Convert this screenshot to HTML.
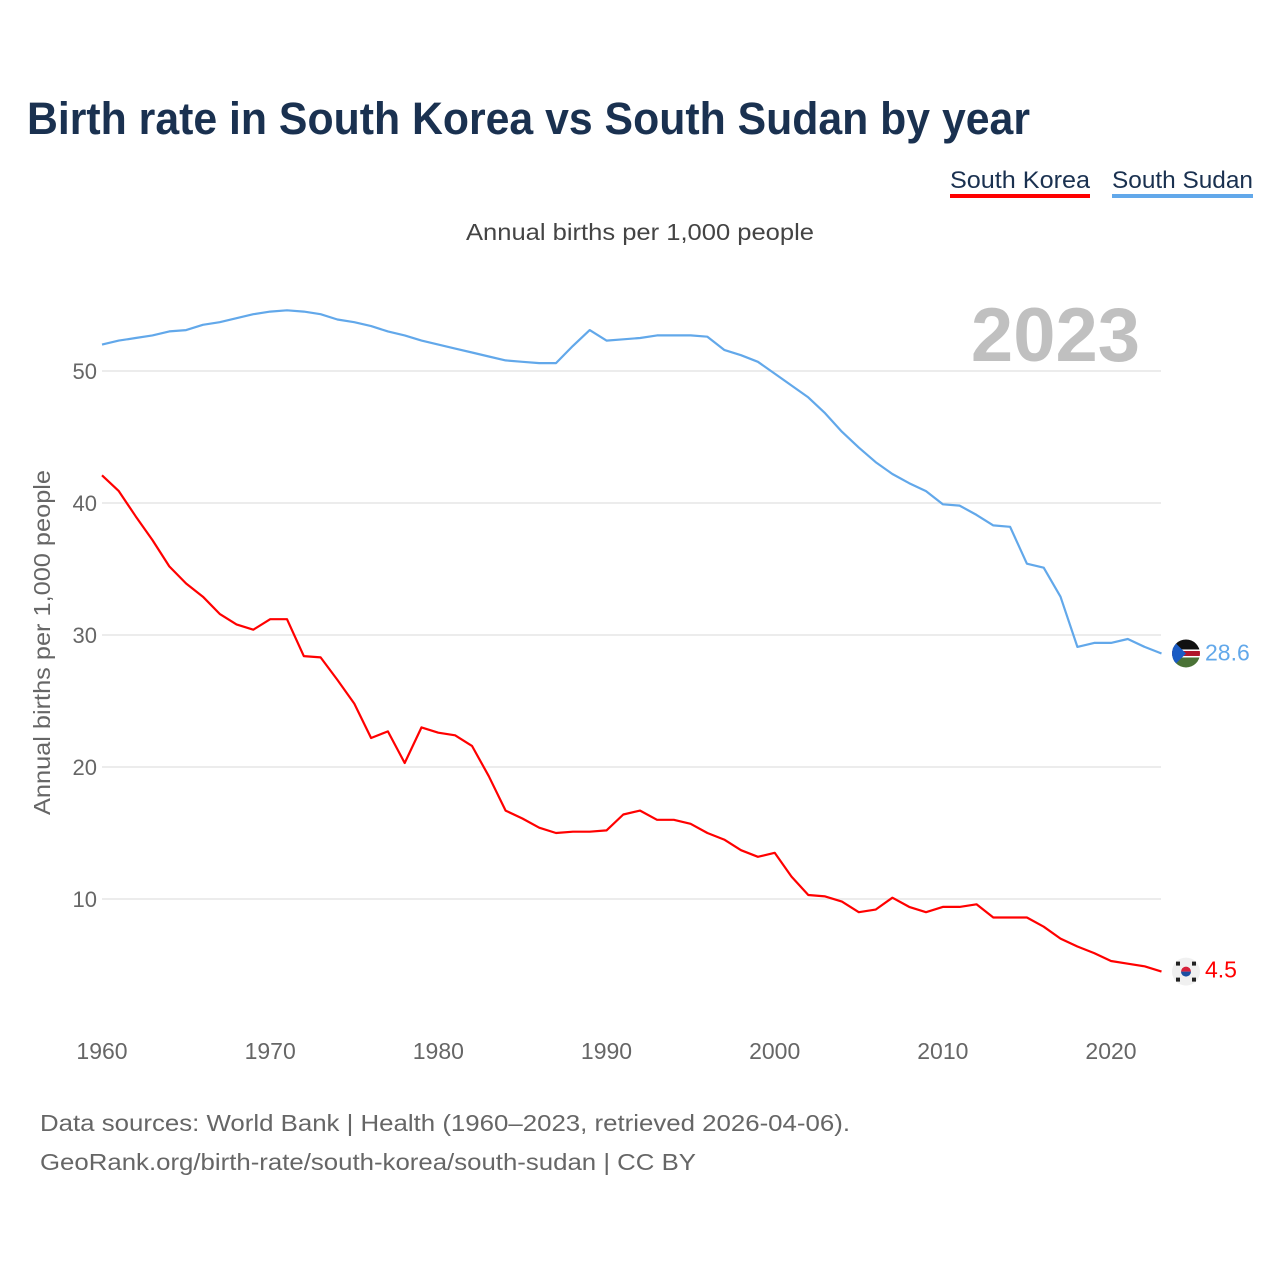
<!DOCTYPE html>
<html><head><meta charset="utf-8"><style>
html,body{margin:0;padding:0;background:#fff;width:1280px;height:1280px;overflow:hidden;font-family:"Liberation Sans",sans-serif;}
svg text{font-family:"Liberation Sans",sans-serif;}
</style></head><body>
<svg id="chart" width="1280" height="1280" viewBox="0 0 1280 1280" xmlns="http://www.w3.org/2000/svg">
<text x="27" y="134" font-size="45" font-weight="bold" fill="#1a3150" textLength="1003" lengthAdjust="spacingAndGlyphs">Birth rate in South Korea vs South Sudan by year</text>
<g>
<text x="950" y="188" font-size="24" fill="#1a3150" textLength="140" lengthAdjust="spacingAndGlyphs">South Korea</text>
<rect x="950" y="194" width="140" height="4" fill="#ff0000"/>
</g>
<g>
<text x="1112" y="188" font-size="24" fill="#1a3150" textLength="141" lengthAdjust="spacingAndGlyphs">South Sudan</text>
<rect x="1112" y="194" width="141" height="4" fill="#62a8ea"/>
</g>
<text x="466" y="240" font-size="23" fill="#444" textLength="348" lengthAdjust="spacingAndGlyphs">Annual births per 1,000 people</text>
<text x="1140" y="361" font-size="76" font-weight="bold" fill="#c0c0c0" text-anchor="end">2023</text>
<text transform="translate(50,815) rotate(-90)" font-size="23" fill="#666" textLength="345" lengthAdjust="spacingAndGlyphs">Annual births per 1,000 people</text>
<g id="grid"></g><g id="xticks"></g><g id="lines"></g><g id="ends"></g>
<text x="40" y="1131" font-size="23" fill="#666" textLength="810" lengthAdjust="spacingAndGlyphs">Data sources: World Bank | Health (1960–2023, retrieved 2026-04-06).</text>
<text x="40" y="1170" font-size="23" fill="#666" textLength="656" lengthAdjust="spacingAndGlyphs">GeoRank.org/birth-rate/south-korea/south-sudan | CC BY</text>
</svg>
<script>
const years = [];
for (let y = 1960; y <= 2023; y++) years.push(y);
const koreaValues = [42.1,40.9,39.0,37.2,35.2,33.9,32.9,31.6,30.8,30.4,31.2,31.2,28.4,28.3,26.6,24.8,22.2,22.7,20.3,23.0,22.6,22.4,21.6,19.3,16.7,16.1,15.4,15.0,15.1,15.1,15.2,16.4,16.7,16.0,16.0,15.7,15.0,14.5,13.7,13.2,13.5,11.7,10.3,10.2,9.8,9.0,9.2,10.1,9.4,9.0,9.4,9.4,9.6,8.6,8.6,8.6,7.9,7.0,6.4,5.9,5.3,5.1,4.9,4.5];
const sudanValues = [52.0,52.3,52.5,52.7,53.0,53.1,53.5,53.7,54.0,54.3,54.5,54.6,54.5,54.3,53.9,53.7,53.4,53.0,52.7,52.3,52.0,51.7,51.4,51.1,50.8,50.7,50.6,50.6,51.9,53.1,52.3,52.4,52.5,52.7,52.7,52.7,52.6,51.6,51.2,50.7,49.8,48.9,48.0,46.8,45.4,44.2,43.1,42.2,41.5,40.9,39.9,39.8,39.1,38.3,38.2,35.4,35.1,32.9,29.1,29.4,29.4,29.7,29.1,28.6];
const yTicks = [10,20,30,40,50];
const xTicks = [1960,1970,1980,1990,2000,2010,2020];

const NS = "http://www.w3.org/2000/svg";
const X = yr => 102 + (yr - 1960) * (1009 / 60);
const Y = v => 1031 - v * 13.2;
function mk(tag, parent, attrs){ const e=document.createElementNS(NS,tag); for(const k in attrs) e.setAttribute(k,attrs[k]); parent.appendChild(e); return e; }

const grid = document.getElementById('grid');
yTicks.forEach(t=>{
  const l = mk('line', grid, {x1:102,x2:1161,y1:Y(t),y2:Y(t),stroke:'#e6e6e6','stroke-width':1.5});
  
  
  const tx = mk('text', grid, {x:97,y:Y(t)+8,'font-size':22,fill:'#666','text-anchor':'end'});
  tx.textContent = t;
  
  
});
const xg = document.getElementById('xticks');
xTicks.forEach(t=>{
  const tx = mk('text', xg, {x:X(t),y:1059,'font-size':23,fill:'#666','text-anchor':'middle'});
  tx.textContent = t;
  
  
});
const lg = document.getElementById('lines');
function line(vals, color, name){
  const d = vals.map((v,i)=>(i?'L':'M')+X(years[i]).toFixed(1)+','+Y(v).toFixed(1)).join(' ');
  const p = mk('path', lg, {d:d,fill:'none',stroke:color,'stroke-width':2.2,'stroke-linejoin':'round'});
  
  
}
line(sudanValues, '#62a8ea', 'south-sudan-line');
line(koreaValues, '#ff0000', 'south-korea-line');

const eg = document.getElementById('ends');
const sLast = sudanValues[sudanValues.length-1], kLast = koreaValues[koreaValues.length-1];
const sy = Y(sLast), fx = 1186;
const sf = mk('g', eg, {});


mk('clipPath', sf, {id:'cs'}).appendChild(document.createElementNS(NS,'circle')).setAttribute('r',14);
document.querySelector('#cs circle').setAttribute('cx',fx);document.querySelector('#cs circle').setAttribute('cy',sy);
const sfg = mk('g', sf, {'clip-path':'url(#cs)'});
mk('rect', sfg, {x:fx-14,y:sy-14,width:28,height:10,fill:'#111'});
mk('rect', sfg, {x:fx-14,y:sy-4,width:28,height:8,fill:'#fff'});
mk('rect', sfg, {x:fx-14,y:sy-2.5,width:28,height:5,fill:'#b0152b'});
mk('rect', sfg, {x:fx-14,y:sy+4,width:28,height:10,fill:'#4a7236'});
mk('polygon', sfg, {points:`${fx-14},${sy-14} ${fx},${sy} ${fx-14},${sy+14}`,fill:'#1a5bc4'});
const st = mk('text', eg, {x:1205,y:sy+7,'font-size':23,fill:'#62a8ea'});
st.textContent = sLast.toFixed(1);


const ky = Y(kLast);
const kf = mk('g', eg, {});


mk('circle', kf, {cx:fx,cy:ky,r:14,fill:'#f0f0f0'});
mk('path', kf, {d:`M${fx-5},${ky} A5,5 0 0 1 ${fx+5},${ky} Z`,fill:'#d6203a'});
mk('path', kf, {d:`M${fx-5},${ky} A5,5 0 0 0 ${fx+5},${ky} Z`,fill:'#1a4ea1'});
[[-8,-8],[8,-8],[-8,8],[8,8]].forEach(([dx,dy])=>mk('rect',kf,{x:fx+dx-2,y:ky+dy-2,width:4,height:4,fill:'#222'}));
const kt = mk('text', eg, {x:1205,y:ky+6,'font-size':23,fill:'#ff0000'});
kt.textContent = kLast.toFixed(1);


</script>
</body></html>
